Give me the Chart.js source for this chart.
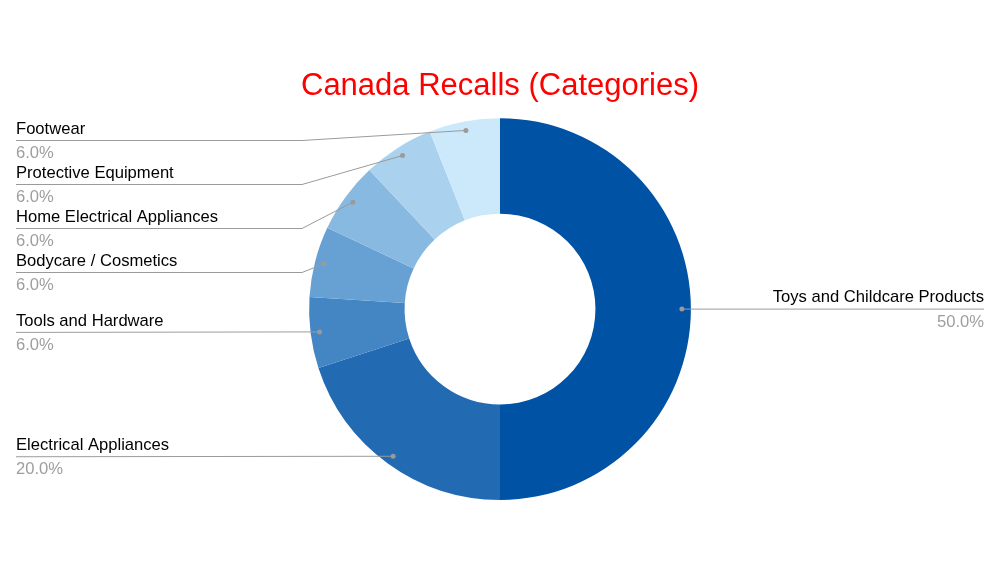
<!DOCTYPE html>
<html>
<head>
<meta charset="utf-8">
<script src="https://cdn.jsdelivr.net/npm/chart.js@4/dist/chart.umd.min.js"></script>
<style>
html,body{margin:0;padding:0;background:#fff;}
#wrap{width:1000px;height:567px;}
</style>
</head>
<body>
<div id="wrap"><canvas id="c" width="1000" height="567"></canvas></div>
<script>
const categories = ["Toys and Childcare Products","Electrical Appliances","Tools and Hardware","Bodycare / Cosmetics","Home Electrical Appliances","Protective Equipment","Footwear"];
const values = [50.0, 20.0, 6.0, 6.0, 6.0, 6.0, 6.0];
const colors = ["#0052A5","#226BB3","#4485C3","#67A1D3","#88B9E0","#AAD2EF","#CBE9FB"];
const titleText = "Canada Recalls (Categories)";

const FONT = "'Liberation Sans', Arial, sans-serif";

const leaderPlugin = {
  id: 'leaders',
  afterDatasetsDraw(chart) {
    const ctx = chart.ctx;
    const meta = chart.getDatasetMeta(0);
    const total = values.reduce((a,b)=>a+b,0);
    const items = [];
    meta.data.forEach((arc, i) => {
      const mid = (arc.startAngle + arc.endAngle) / 2;
      const r = arc.outerRadius - 9;
      const px = arc.x + Math.cos(mid) * r;
      const py = arc.y + Math.sin(mid) * r;
      items.push({i, px, py, right: px > arc.x, ly: py});
    });
    const left = items.filter(d => !d.right).sort((a,b)=>a.py-b.py);
    let minY = 140;
    left.forEach(d => { d.ly = Math.max(d.py, minY); minY = d.ly + 44; });
    ctx.save();
    items.forEach(d => {
      const name = categories[d.i];
      const pct = (values[d.i] / total * 100).toFixed(1) + "%";
      ctx.strokeStyle = "#9a9a9a";
      ctx.lineWidth = 1;
      ctx.beginPath();
      if (d.right) {
        ctx.moveTo(d.px, d.py);
        ctx.lineTo(984, d.ly);
      } else {
        ctx.moveTo(16, d.ly + 0.5);
        if (Math.abs(d.ly - d.py) > 1) {
          ctx.lineTo(302, d.ly + 0.5);
        }
        ctx.lineTo(d.px, d.py);
      }
      ctx.stroke();
      ctx.fillStyle = "#9a9a9a";
      ctx.beginPath();
      ctx.arc(d.px, d.py, 2.5, 0, Math.PI*2);
      ctx.fill();
      ctx.font = "16.6px " + FONT;
      ctx.textBaseline = "alphabetic";
      if (d.right) {
        ctx.textAlign = "right";
        ctx.fillStyle = "#000";
        ctx.fillText(name, 984, d.ly - 7);
        ctx.fillStyle = "#9e9e9e";
        ctx.fillText(pct, 984, d.ly + 18);
      } else {
        ctx.textAlign = "left";
        ctx.fillStyle = "#000";
        ctx.fillText(name, 16, d.ly - 6);
        ctx.fillStyle = "#9e9e9e";
        ctx.fillText(pct, 16, d.ly + 18);
      }
    });
    ctx.restore();
  }
};

new Chart(document.getElementById('c'), {
  type: 'doughnut',
  data: {
    labels: categories,
    datasets: [{
      data: values,
      backgroundColor: colors,
      borderWidth: 0,
      hoverOffset: 0
    }]
  },
  options: {
    responsive: false,
    animation: false,
    cutout: '50%',
    layout: { padding: { top: 58, bottom: 67, left: 0, right: 0 } },
    plugins: {
      legend: { display: false },
      tooltip: { enabled: false },
      title: {
        display: true,
        text: titleText,
        color: '#ff0000',
        font: { family: FONT, size: 31, weight: 'normal', lineHeight: 1.2 },
        padding: { top: 10, bottom: 13 }
      }
    }
  },
  plugins: [leaderPlugin]
});
</script>
</body>
</html>
